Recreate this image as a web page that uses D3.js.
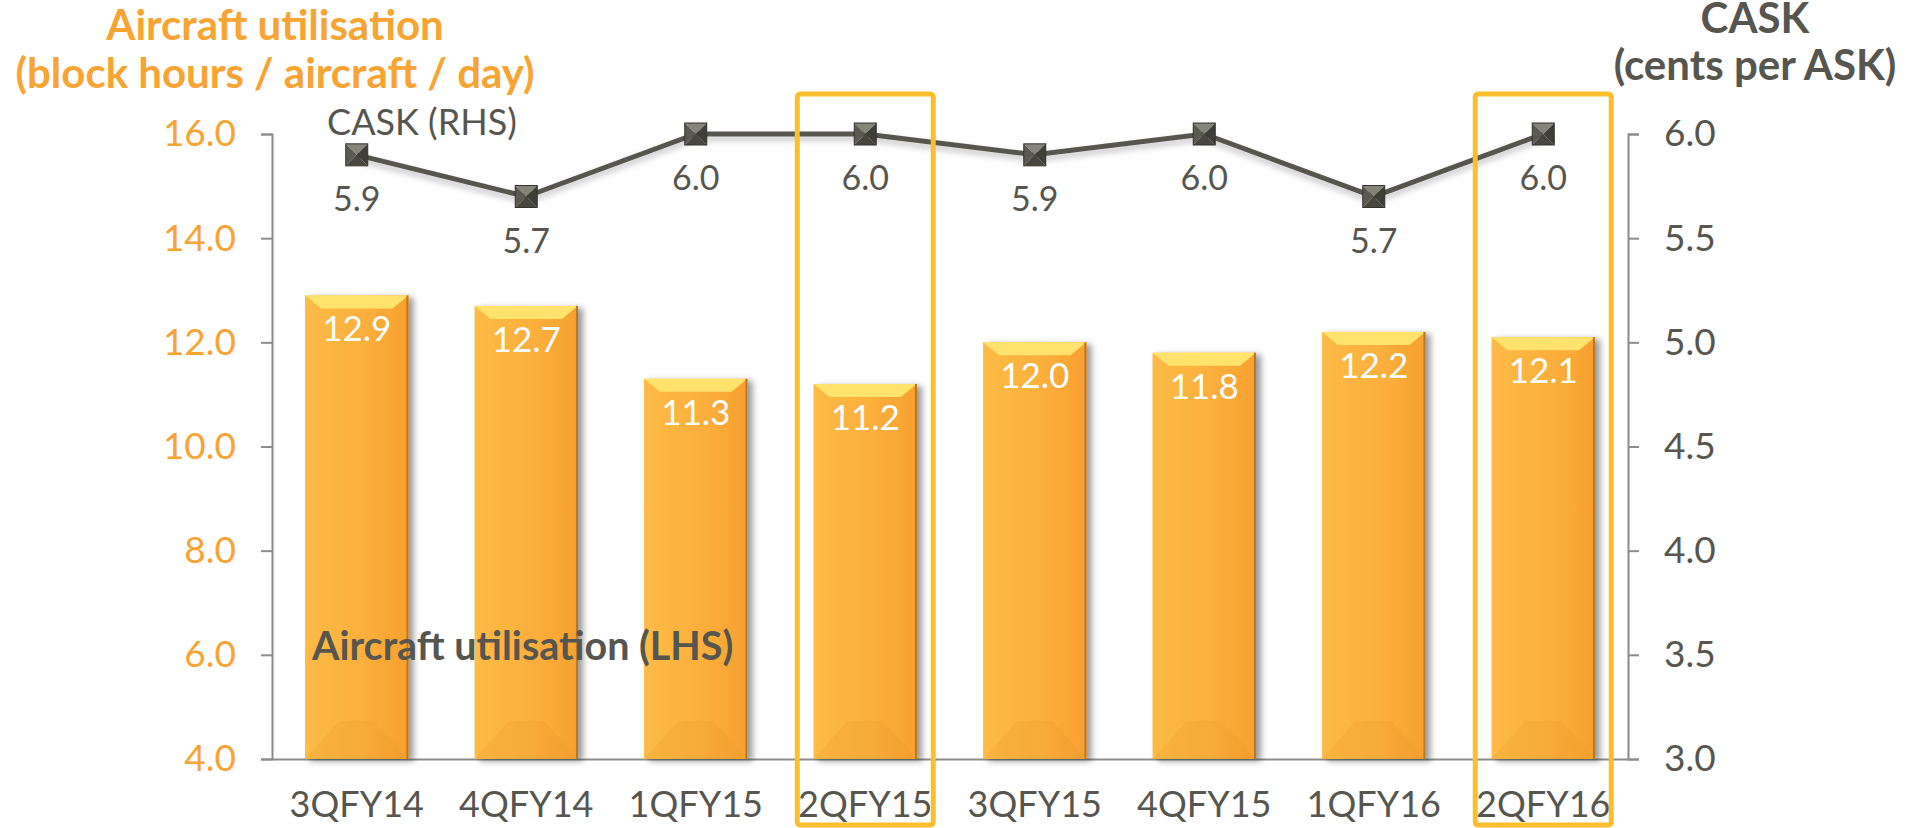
<!DOCTYPE html>
<html>
<head>
<meta charset="utf-8">
<script src="https://cdn.jsdelivr.net/npm/d3@7"></script>
<style>
  body { margin: 0; background: #fff; }
  svg { display: block; font-family: Lato, "Open Sans", sans-serif; }
</style>
</head>
<body>
<svg id="chart"></svg>
<script>
// Data
const categories = ["3QFY14", "4QFY14", "1QFY15", "2QFY15", "3QFY15", "4QFY15", "1QFY16", "2QFY16"];
const utilisation = [12.9, 12.7, 11.3, 11.2, 12.0, 11.8, 12.2, 12.1];
const cask = [5.9, 5.7, 6.0, 6.0, 5.9, 6.0, 5.7, 6.0];
const highlighted = ["2QFY15", "2QFY16"];
const leftTicks = [4, 6, 8, 10, 12, 14, 16];
const rightTicks = [3.0, 3.5, 4.0, 4.5, 5.0, 5.5, 6.0];

const W = 1918, H = 828;
const orange = "#F8A433", grey = "#56564F", axisGrey = "#8C8C8C";

const svg = d3.select("#chart").attr("width", W).attr("height", H);
const defs = svg.append("defs");

// bar gradient + shadows
const grad = defs.append("linearGradient").attr("id", "barGrad").attr("x1", 0).attr("x2", 1);
grad.append("stop").attr("offset", "0%").attr("stop-color", "#FDBB46");
grad.append("stop").attr("offset", "60%").attr("stop-color", "#FBAE3B");
grad.append("stop").attr("offset", "100%").attr("stop-color", "#F7A02F");

const shadow = defs.append("filter").attr("id", "shadow").attr("x", "-20%").attr("y", "-20%").attr("width", "150%").attr("height", "150%");
shadow.append("feDropShadow").attr("dx", 5).attr("dy", 2).attr("stdDeviation", 3)
  .attr("flood-color", "#000").attr("flood-opacity", 0.4);
const lineShadow = defs.append("filter").attr("id", "lineShadow").attr("x", "-10%").attr("y", "-50%").attr("width", "120%").attr("height", "200%");
lineShadow.append("feDropShadow").attr("dx", 0).attr("dy", 4).attr("stdDeviation", 3)
  .attr("flood-color", "#000").attr("flood-opacity", 0.25);

// scales
const x = d3.scaleBand().domain(categories).range([272, 1628]).padding(0);
const xBar = d3.scaleBand().domain(categories).range([272, 1628]).paddingInner(0.39).paddingOuter(0.195);
const yLeft = d3.scaleLinear().domain([4, 16]).range([759, 134]);
const yRight = d3.scaleLinear().domain([3, 6]).range([759, 134]);

// titles
const leftTitle = svg.append("text").attr("text-anchor", "middle").attr("fill", orange)
  .attr("font-size", 42).attr("font-weight", "bold");
leftTitle.append("tspan").attr("x", 275).attr("y", 40).text("Aircraft utilisation");
leftTitle.append("tspan").attr("x", 275).attr("y", 88).text("(block hours / aircraft / day)");
const rightTitle = svg.append("text").attr("text-anchor", "middle").attr("fill", grey)
  .attr("font-size", 42).attr("font-weight", "bold");
rightTitle.append("tspan").attr("x", 1755).attr("y", 33).text("CASK");
rightTitle.append("tspan").attr("x", 1755).attr("y", 80).text("(cents per ASK)");

// axes
const gLeft = svg.append("g").attr("transform", "translate(272,0)")
  .call(d3.axisLeft(yLeft).tickValues(leftTicks).tickFormat(d3.format(".1f")).tickSize(11).tickPadding(25));
gLeft.selectAll("text").attr("fill", orange).attr("font-size", 37);

const gRight = svg.append("g").attr("transform", "translate(1628,0)")
  .call(d3.axisRight(yRight).tickValues(rightTicks).tickFormat(d3.format(".1f")).tickSize(11).tickPadding(25));
gRight.selectAll("text").attr("fill", grey).attr("font-size", 37);

const gBottom = svg.append("g").attr("transform", "translate(0,759)")
  .call(d3.axisBottom(x).tickSize(0).tickPadding(32));
gBottom.selectAll("text").attr("fill", grey).attr("font-size", 36);

// tick marks on category boundaries
const bounds = categories.map(c => x(c)).concat([x.range()[1]]);
gBottom.selectAll(".bound").data(bounds).enter().append("line")
  .attr("x1", d => d).attr("x2", d => d).attr("y1", 0).attr("y2", 12);

svg.selectAll(".domain, .tick line, .bound").attr("stroke", axisGrey).attr("stroke-width", 2);
svg.selectAll(".tick text").attr("font-family", "Lato, sans-serif");

// bars
const bars = svg.append("g").selectAll("g.bar")
  .data(categories.map((c, i) => ({ cat: c, v: utilisation[i] })))
  .enter().append("g").attr("class", "bar");

bars.append("rect")
  .attr("x", d => xBar(d.cat))
  .attr("y", d => yLeft(d.v))
  .attr("width", xBar.bandwidth())
  .attr("height", d => yLeft(4) - yLeft(d.v))
  .attr("fill", "url(#barGrad)")
  .attr("filter", "url(#shadow)");

// top bevel
bars.append("path")
  .attr("d", d => {
    const x0 = xBar(d.cat), x1 = x0 + xBar.bandwidth(), y0 = yLeft(d.v);
    return `M${x0},${y0}L${x1},${y0}L${x1 - 16},${y0 + 13}L${x0 + 16},${y0 + 13}Z`;
  })
  .attr("fill", "#FFE36C");
// bottom bevel
bars.append("path")
  .attr("d", d => {
    const x0 = xBar(d.cat), x1 = x0 + xBar.bandwidth(), y0 = yLeft(4);
    return `M${x0},${y0}L${x0 + 34},${y0 - 38}L${x1 - 34},${y0 - 38}L${x1},${y0}Z`;
  })
  .attr("fill", "#E8952A").attr("opacity", 0.2);
// dark right edge
bars.append("rect")
  .attr("x", d => xBar(d.cat) + xBar.bandwidth() - 2)
  .attr("y", d => yLeft(d.v))
  .attr("width", 2)
  .attr("height", d => yLeft(4) - yLeft(d.v))
  .attr("fill", "#B9781F");

bars.append("text")
  .attr("x", d => xBar(d.cat) + xBar.bandwidth() / 2)
  .attr("y", d => yLeft(d.v) + 46)
  .attr("text-anchor", "middle")
  .attr("fill", "#fff")
  .attr("font-size", 35)
  .text(d => d3.format(".1f")(d.v));

// series annotations
svg.append("text").attr("x", 312).attr("y", 660).attr("fill", grey)
  .attr("font-size", 39.5).attr("font-weight", "bold")
  .text("Aircraft utilisation (LHS)");
svg.append("text").attr("x", 422).attr("y", 135).attr("text-anchor", "middle").attr("fill", grey).attr("font-size", 36)
  .text("CASK (RHS)");

// CASK line
const pts = categories.map((c, i) => ({ cat: c, v: cask[i], cx: x(c) + x.bandwidth() / 2, cy: yRight(cask[i]) }));
svg.append("path")
  .attr("d", d3.line().x(d => d.cx).y(d => d.cy)(pts))
  .attr("fill", "none")
  .attr("stroke", "#575750")
  .attr("stroke-width", 5)
  .attr("filter", "url(#lineShadow)");

// pyramid square markers
const s = 11;
const markers = svg.append("g").selectAll("g").data(pts).enter().append("g")
  .attr("transform", d => `translate(${d.cx},${d.cy})`);
const faces = [
  { d: `M${-s},${-s}L${s},${-s}L0,0Z`, c: "#85857C" },
  { d: `M${s},${-s}L${s},${s}L0,0Z`, c: "#3E3E39" },
  { d: `M${s},${s}L${-s},${s}L0,0Z`, c: "#47473F" },
  { d: `M${-s},${s}L${-s},${-s}L0,0Z`, c: "#5A5A53" }
];
faces.forEach(f => markers.append("path").attr("d", f.d).attr("fill", f.c));
markers.append("rect").attr("x", -s).attr("y", -s).attr("width", 2 * s).attr("height", 2 * s)
  .attr("fill", "none").attr("stroke", "#33332F").attr("stroke-width", 1);

svg.append("g").selectAll("text").data(pts).enter().append("text")
  .attr("x", d => d.cx)
  .attr("y", d => d.cy + 56)
  .attr("text-anchor", "middle")
  .attr("fill", grey)
  .attr("font-size", 34)
  .text(d => d3.format(".1f")(d.v));

// highlight boxes
svg.append("g").selectAll("rect").data(highlighted).enter().append("rect")
  .attr("x", d => x(d) + x.bandwidth() / 2 - 68)
  .attr("y", 94)
  .attr("width", 136)
  .attr("height", 731)
  .attr("rx", 3)
  .attr("fill", "none")
  .attr("stroke", "#FBBF2E")
  .attr("stroke-width", 5);
</script>
</body>
</html>
